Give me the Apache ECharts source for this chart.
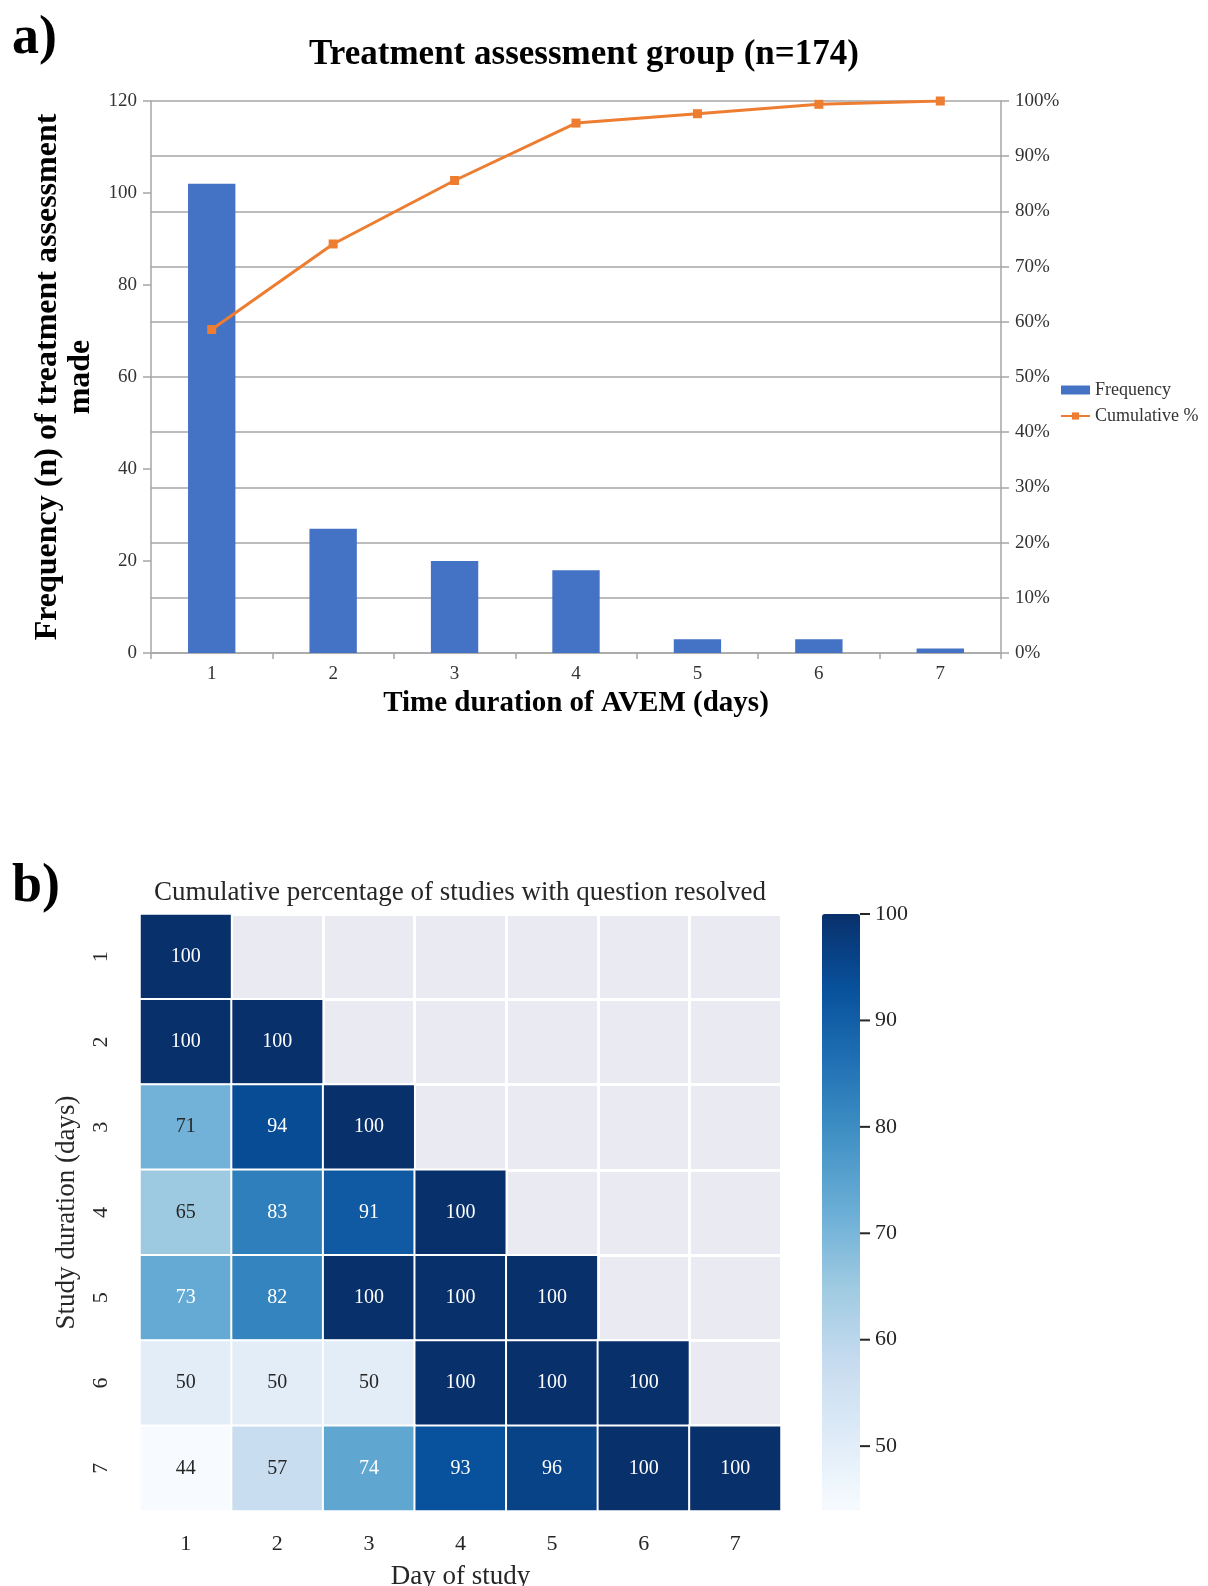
<!DOCTYPE html>
<html>
<head>
<meta charset="utf-8">
<script src="https://cdn.jsdelivr.net/npm/echarts@6/dist/echarts.min.js"></script>
<style>
html,body{margin:0;padding:0;background:#fff;}
#chart{width:1208px;height:1586px;}
</style>
</head>
<body>
<div id="chart"></div>
<script>
// ---- Panel a) data ----
const durationDays = ['1', '2', '3', '4', '5', '6', '7'];
const frequency = [102, 27, 20, 18, 3, 3, 1];
const cumulativePct = [58.6, 74.1, 85.6, 96.0, 97.7, 99.4, 100];

// ---- Panel b) data ----
const dayOfStudy = ['1', '2', '3', '4', '5', '6', '7'];
const studyDuration = ['1', '2', '3', '4', '5', '6', '7'];
const resolvedPct = [
  [100, null, null, null, null, null, null],
  [100, 100, null, null, null, null, null],
  [71, 94, 100, null, null, null, null],
  [65, 83, 91, 100, null, null, null],
  [73, 82, 100, 100, 100, null, null],
  [50, 50, 50, 100, 100, 100, null],
  [44, 57, 74, 93, 96, 100, 100]
];
const colorbarTicks = [50, 60, 70, 80, 90, 100];
const blues = ['#f7fbff', '#deebf7', '#c6dbef', '#9ecae1', '#6baed6', '#4292c6', '#2171b5', '#08519c', '#08306b'];

const SERIF = 'Liberation Serif';
const heatData = [];
resolvedPct.forEach((row, r) => {
  row.forEach((v, c) => {
    if (v !== null) {
      heatData.push({
        value: [c, r, v],
        label: { color: v < 72 ? '#262626' : '#ffffff' }
      });
    }
  });
});

const chart = echarts.init(document.getElementById('chart'), null, { renderer: 'canvas' });
const gridGray = '#a6a6a6';

const option = {
  backgroundColor: '#ffffff',
  animation: false,
  textStyle: { fontFamily: SERIF },
  graphic: [
    { type: 'text', left: 12, top: 12, style: { text: 'a)', font: 'bold 54px "Liberation Serif"', fill: '#000' } },
    { type: 'text', x: 584, y: 55, style: { text: 'Treatment assessment group (n=174)', font: 'bold 35px "Liberation Serif"', fill: '#000', textAlign: 'center', textVerticalAlign: 'middle' } },
    { type: 'text', left: 12, top: 860, style: { text: 'b)', font: 'bold 54px "Liberation Serif"', fill: '#000' } },
    { type: 'text', x: 460, y: 893, style: { text: 'Cumulative percentage of studies with question resolved', font: '27px "Liberation Serif"', fill: '#262626', textAlign: 'center', textVerticalAlign: 'middle' } }
  ],
  legend: {
    orient: 'vertical',
    left: 1055,
    top: 376,
    itemWidth: 29,
    itemHeight: 9,
    itemGap: 8,
    textStyle: { fontFamily: SERIF, fontSize: 18, color: '#333' },
    data: [{ name: 'Frequency', icon: 'rect' }, { name: 'Cumulative %' }]
  },
  grid: [
    { left: 151, top: 101, width: 850, height: 552, outerBoundsMode: 'none', containLabel: false },
    { left: 140, top: 914, width: 641, height: 597, show: true, backgroundColor: '#EAEAF2', borderWidth: 0, outerBoundsMode: 'none', containLabel: false },
    { left: 822, top: 914, width: 38, height: 596, outerBoundsMode: 'none', containLabel: false }
  ],
  xAxis: [
    {
      gridIndex: 0, type: 'category', data: durationDays,
      axisLine: { lineStyle: { color: gridGray, width: 1.5 } },
      axisTick: { show: true, length: 6, lineStyle: { color: gridGray, width: 1.5 } },
      axisLabel: { fontFamily: SERIF, fontSize: 19, color: '#333', margin: 12 },
      name: 'Time duration of AVEM (days)', nameLocation: 'middle', nameGap: 36,
      nameTextStyle: { fontFamily: SERIF, fontSize: 29, fontWeight: 'bold', color: '#000' }
    },
    {
      gridIndex: 1, type: 'category', data: dayOfStudy,
      axisLine: { show: false }, axisTick: { show: false },
      axisLabel: { fontFamily: SERIF, fontSize: 22, color: '#262626', margin: 22 },
      splitLine: { show: true, lineStyle: { color: '#ffffff', width: 3 } },
      name: 'Day of study', nameLocation: 'middle', nameGap: 52,
      nameTextStyle: { fontFamily: SERIF, fontSize: 27, color: '#262626' }
    },
    { gridIndex: 2, type: 'value', show: false, min: 0, max: 1 }
  ],
  yAxis: [
    {
      gridIndex: 0, type: 'value', min: 0, max: 120, interval: 20, position: 'left',
      axisLine: { show: true, lineStyle: { color: gridGray, width: 1.5 } },
      axisTick: { show: true, length: 8, lineStyle: { color: gridGray, width: 1.5 } },
      axisLabel: { fontFamily: SERIF, fontSize: 19, color: '#333', margin: 14 },
      splitLine: { show: false },
      name: 'Frequency (n) of treatment assessment\nmade', nameLocation: 'middle', nameGap: 54,
      nameTextStyle: { fontFamily: SERIF, fontSize: 32, fontWeight: 'bold', color: '#000', lineHeight: 33 }
    },
    {
      gridIndex: 0, type: 'value', min: 0, max: 100, interval: 10, position: 'right',
      axisLine: { show: true, lineStyle: { color: gridGray, width: 1.5 } },
      axisTick: { show: true, length: 8, lineStyle: { color: gridGray, width: 1.5 } },
      axisLabel: { fontFamily: SERIF, fontSize: 19, color: '#333', margin: 14, formatter: '{value}%' },
      splitLine: { show: true, lineStyle: { color: gridGray, width: 1.5 } }
    },
    {
      gridIndex: 1, type: 'category', data: studyDuration, inverse: true,
      axisLine: { show: false }, axisTick: { show: false },
      axisLabel: { fontFamily: SERIF, fontSize: 22, color: '#262626', margin: 28, rotate: 90 },
      splitLine: { show: true, lineStyle: { color: '#ffffff', width: 3 } },
      name: 'Study duration (days)', nameLocation: 'middle', nameGap: 60,
      nameTextStyle: { fontFamily: SERIF, fontSize: 27, color: '#262626' }
    },
    {
      gridIndex: 2, type: 'value', min: 44, max: 100, position: 'right',
      axisLine: { show: false },
      axisTick: { show: false },
      axisLabel: {
        fontFamily: SERIF, fontSize: 22, color: '#262626', margin: 0,
        customValues: colorbarTicks,
        formatter: v => '{t|}{v|' + v + '}',
        rich: {
          t: { width: 10, height: 2, backgroundColor: '#262626' },
          v: { fontFamily: SERIF, fontSize: 22, color: '#262626', padding: [0, 0, 0, 5] }
        }
      },
      splitLine: { show: false }
    }
  ],
  visualMap: {
    type: 'continuous',
    seriesIndex: 2,
    min: 44, max: 100,
    calculable: false,
    show: true,
    left: 822, top: 914,
    itemWidth: 38, itemHeight: 596,
    padding: 0,
    text: null,
    showLabel: false,
    inRange: { color: blues }
  },
  series: [
    {
      name: 'Frequency', type: 'bar', xAxisIndex: 0, yAxisIndex: 0,
      data: frequency, barWidth: '39%',
      itemStyle: { color: '#4472C4' }
    },
    {
      name: 'Cumulative %', type: 'line', xAxisIndex: 0, yAxisIndex: 1,
      data: cumulativePct,
      symbol: 'rect', symbolSize: 9,
      lineStyle: { color: '#ED7D31', width: 3 },
      itemStyle: { color: '#ED7D31' }
    },
    {
      name: 'Resolved', type: 'heatmap', xAxisIndex: 1, yAxisIndex: 2,
      data: heatData,
      itemStyle: { borderColor: '#ffffff', borderWidth: 2 },
      label: { show: true, fontFamily: SERIF, fontSize: 20, formatter: p => String(p.value[2]) },
      emphasis: { disabled: true }
    }
  ]
};
chart.setOption(option);
</script>
</body>
</html>
